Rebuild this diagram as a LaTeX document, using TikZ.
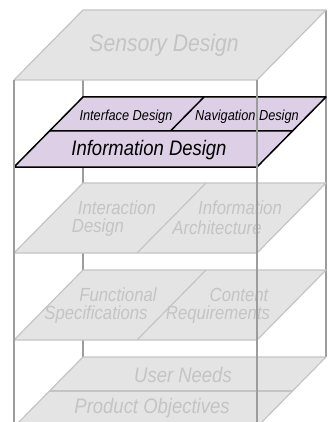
\documentclass[tikz,border=0pt]{standalone}
\usepackage{fontspec}
\newfontfamily\layerfont[FakeStretch=0.88]{Liberation Sans}
\usetikzlibrary{calc}
\definecolor{planegray}{HTML}{E4E4E4}
\definecolor{planeedge}{HTML}{C4C4C4}
\definecolor{textgray}{HTML}{C4C4C4}
\definecolor{pillargray}{HTML}{9C9C9C}
\definecolor{lilac}{HTML}{DDD0E6}
% outline of one layer of the stack
\newcommand{\layerpath}{(83,0) -- (326,0) -- (257,70) -- (14,70) -- cycle}

\begin{document}
\begin{tikzpicture}[x=1pt,y=-1pt,
  plane/.style={fill=planegray,draw=planeedge,line width=1.2pt,line join=round},
  activeplane/.style={fill=lilac,draw=black,line width=1.5pt,line join=round},
  pillar/.style={draw=pillargray,line width=2.2pt},
  lbl/.style={inner sep=0pt,text=textgray,font=\layerfont\itshape\fontsize{19}{21}\selectfont},
  biglbl/.style={lbl,font=\layerfont\itshape\fontsize{21}{24}\selectfont},
  activelbl/.style={lbl,text=black}]
  \useasboundingbox (0,0) rectangle (330,422);
  \clip (0,0) rectangle (330,422);

  % corners of the box
  \coordinate (tbl) at (83,10);  \coordinate (tbr) at (326,10);
  \coordinate (tfl) at (14,80);  \coordinate (tfr) at (257,80);
  \coordinate (bbl) at (83,357); \coordinate (bbr) at (326,357);
  \coordinate (bfl) at (14,422); \coordinate (bfr) at (257,422);

  % back pillars
  \draw[pillar] (tbl) -- (bbl);
  \draw[pillar] (tbr) -- (bbr);

  % surface
  \begin{scope}[shift={(0,10)}]
    \draw[plane] \layerpath;
  \end{scope}
  \node[lbl,font=\layerfont\itshape\fontsize{24}{28}\selectfont] (sensory) at (164,45) {Sensory Design};

  % skeleton
  \begin{scope}[shift={(0,97)}]
    \draw[activeplane] \layerpath;
    \draw[activeplane] (49.5,34) -- (292.5,34) (204,0) -- (170.5,34);
  \end{scope}
  \node[activelbl,font=\layerfont\itshape\fontsize{14.5}{16}\selectfont] (iface) at (126,117) {Interface Design};
  \node[activelbl,font=\layerfont\itshape\fontsize{14.5}{16}\selectfont] (nav) at (247,117) {Navigation Design};
  \node[activelbl,font=\layerfont\itshape\fontsize{21}{24}\selectfont] (info) at (149,150) {Information Design};

  % structure
  \begin{scope}[shift={(0,183)}]
    \draw[plane] \layerpath;
    \draw[plane] (206,0) -- (137,70);
  \end{scope}
  \node[lbl] (ixd1) at (117,208) {Interaction};
  \node[lbl] (ixd2) at (98,228) {Design};
  \node[lbl] (ia1) at (240,208) {Information};
  \node[lbl] (ia2) at (217,228) {Architecture};

  % scope
  \begin{scope}[shift={(0,270)}]
    \draw[plane] \layerpath;
    \draw[plane] (206,0) -- (137,70);
  \end{scope}
  \node[lbl] (fs1) at (118,295) {Functional};
  \node[lbl] (fs2) at (96,315) {Specifications};
  \node[lbl] (cr1) at (239,295) {Content};
  \node[lbl] (cr2) at (218,315) {Requirements};

  % strategy
  \begin{scope}[shift={(0,357)}]
    \draw[plane] \layerpath;
    \draw[plane] (49.5,34) -- (292.5,34);
  \end{scope}
  \node[biglbl] (needs) at (183,375) {User Needs};
  \node[biglbl] (objectives) at (152,408) {Product Objectives};

  % front pillars
  \draw[pillar] (tfl) -- (bfl);
  \draw[pillar] (tfr) -- (bfr);
\end{tikzpicture}
\end{document}
